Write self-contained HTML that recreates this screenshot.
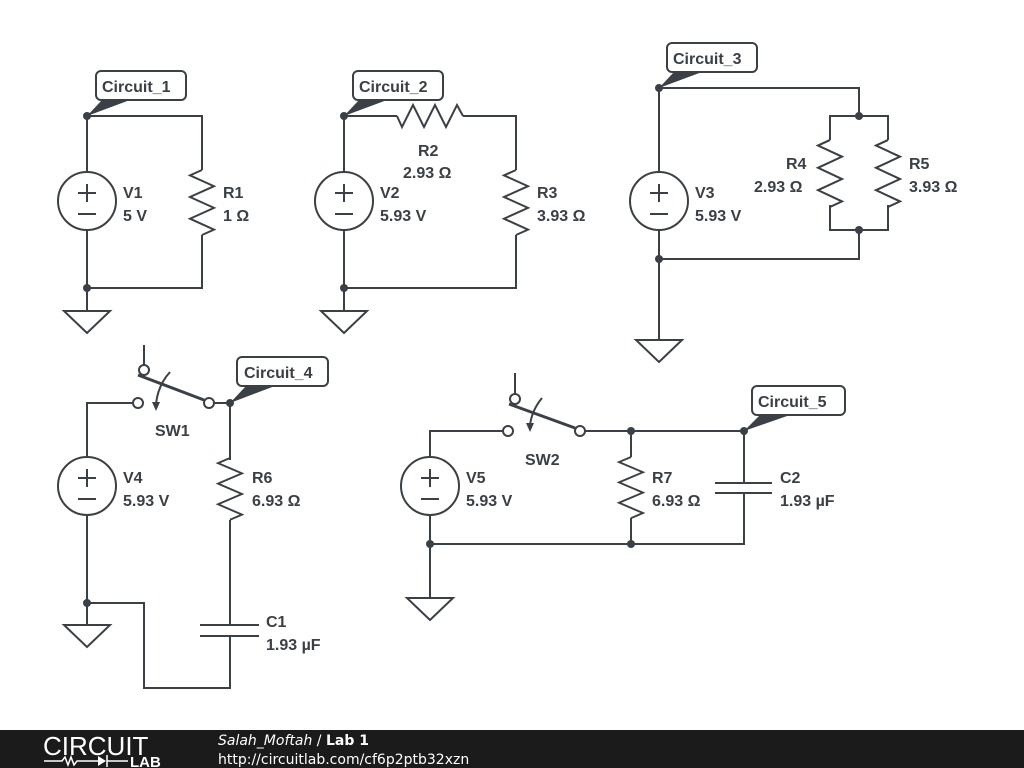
<!DOCTYPE html>
<html><head><meta charset="utf-8"><style>
html,body{margin:0;padding:0;background:#fff;width:1024px;height:768px;overflow:hidden}
svg{display:block;font-family:"Liberation Sans",Arial,sans-serif}
svg text{font-family:"Liberation Sans",Arial,sans-serif;font-weight:700;font-size:16px;fill:#3a4046}
</style></head><body>
<svg width="1024" height="768" viewBox="0 0 1024 768" font-family="Liberation Sans, Arial, sans-serif">
<defs>
<g id="vs"><circle cx="0" cy="0" r="29" fill="#fff" stroke="#3a4046" stroke-width="2"/>
<line x1="-9" y1="-8" x2="9" y2="-8" stroke="#3a4046" stroke-width="2"/><line x1="0" y1="-17" x2="0" y2="1" stroke="#3a4046" stroke-width="2"/>
<line x1="-9" y1="13" x2="9" y2="13" stroke="#3a4046" stroke-width="2"/></g>
<g id="gnd"><polygon points="-23,0 23,0 0,22" fill="#fff" stroke="#3a4046" stroke-width="2"/></g>
<polyline id="rz" points="0,0 -12,5.4 12,16.2 -12,27 12,37.9 -12,48.7 12,59.6 0,65" fill="none" stroke="#3a4046" stroke-width="2"/>
</defs>
<g fill="none" stroke="#3a4046" stroke-width="2">
<polyline points="87,288 87,116 202,116 202,170"/><polyline points="202,235 202,288 87,288 87,311"/>
<polyline points="344,311 344,116 397,116"/><polyline points="463,116 516,116 516,170"/><polyline points="516,235 516,288 344,288"/>
<polyline points="659,340 659,88 859,88 859,116"/><polyline points="830,140 830,116 888,116 888,140"/><polyline points="830,205 830,230 888,230 888,205"/><polyline points="859,230 859,259 659,259"/>
<polyline points="87,625 87,403 133,403"/><polyline points="144,365 144,345"/><polyline points="214,403 230,403 230,460"/><polyline points="230,520 230,625"/><polyline points="230,636 230,688 144,688 144,603 87,603"/>
<line x1="200" y1="625" x2="259" y2="625"/><line x1="200" y1="636" x2="259" y2="636"/>
<line x1="138" y1="375" x2="204" y2="400" stroke-width="3"/>
<path d="M170,372 Q158,385 156,404"/>
<polyline points="430,598 430,431 503,431"/><polyline points="515,394 515,373"/><polyline points="585,431 744,431 744,483"/><polyline points="631,431 631,457"/><polyline points="631,518 631,544"/><polyline points="744,493 744,544 430,544"/>
<line x1="715" y1="483" x2="772" y2="483"/><line x1="715" y1="493" x2="772" y2="493"/>
<line x1="509" y1="404" x2="575" y2="428" stroke-width="3"/>
<path d="M542,398 Q532,410 530,425"/>
<polyline points="397,116 402,127 413,105 424,127 435,105 446,127 457,105 463,116"/>
</g>
<polygon points="152,402 160,402 156,411" fill="#3a4046"/>
<polygon points="526,423 534,423 530,432" fill="#3a4046"/>
<g fill="#fff" stroke="#3a4046" stroke-width="2">
<circle cx="138" cy="403" r="5"/><circle cx="144" cy="370" r="5"/><circle cx="209" cy="403" r="5"/>
<circle cx="508" cy="431" r="5"/><circle cx="515" cy="399" r="5"/><circle cx="580" cy="431" r="5"/>
</g>
<use href="#rz" transform="translate(202,170)"/>
<use href="#rz" transform="translate(516,170)"/>
<use href="#rz" transform="translate(830,140) scale(1,1.03)"/>
<use href="#rz" transform="translate(888,140) scale(1,1.03)"/>
<use href="#rz" transform="translate(230,458) scale(1,0.95)"/>
<use href="#rz" transform="translate(631,457) scale(1,0.94)"/>
<use href="#vs" transform="translate(87,201)"/><use href="#vs" transform="translate(344,201)"/><use href="#vs" transform="translate(659,201)"/><use href="#vs" transform="translate(87,486)"/><use href="#vs" transform="translate(430,486)"/>
<use href="#gnd" transform="translate(87,311)"/><use href="#gnd" transform="translate(344,311)"/><use href="#gnd" transform="translate(659,340)"/><use href="#gnd" transform="translate(87,625)"/><use href="#gnd" transform="translate(430,598)"/>
<g fill="#3a4046">
<circle cx="87" cy="116" r="4"/><circle cx="87" cy="288" r="4"/><circle cx="344" cy="116" r="4"/><circle cx="344" cy="288" r="4"/>
<circle cx="659" cy="88" r="4"/><circle cx="659" cy="259" r="4"/><circle cx="859" cy="116" r="4"/><circle cx="859" cy="230" r="4"/>
<circle cx="230" cy="403" r="4"/><circle cx="87" cy="603" r="4"/>
<circle cx="631" cy="431" r="4"/><circle cx="744" cy="431" r="4"/><circle cx="430" cy="544" r="4"/><circle cx="631" cy="544" r="4"/>
<polygon points="87,116 102,100 130,100"/><polygon points="344,116 359,100 387,100"/><polygon points="659,88 674,72 702,72"/><polygon points="230,403 246,386 275,386"/><polygon points="744,431 760,415 790,415"/>
</g>
<g fill="#fff" stroke="#3a4046" stroke-width="2">
<rect x="96" y="71" width="90" height="29" rx="5"/><rect x="353" y="71" width="90" height="29" rx="5"/><rect x="667" y="43" width="90" height="29" rx="5"/><rect x="237" y="357" width="91" height="29" rx="5"/><rect x="752" y="386" width="93" height="29" rx="5"/>
</g>
<g font-family="Liberation Sans, Arial, sans-serif" font-weight="700" font-size="16" fill="#3a4046">
<text x="102" y="92">Circuit_1</text><text x="359" y="92">Circuit_2</text><text x="673" y="64">Circuit_3</text><text x="244" y="378">Circuit_4</text><text x="758" y="407">Circuit_5</text>
<text x="123" y="198">V1</text><text x="123" y="221">5 V</text>
<text x="223" y="198">R1</text><text x="223" y="221">1 Ω</text>
<text x="380" y="198">V2</text><text x="380" y="221">5.93 V</text>
<text x="418" y="156">R2</text><text x="403" y="178">2.93 Ω</text>
<text x="537" y="198">R3</text><text x="537" y="221">3.93 Ω</text>
<text x="695" y="198">V3</text><text x="695" y="221">5.93 V</text>
<text x="786" y="169">R4</text><text x="754" y="192">2.93 Ω</text>
<text x="909" y="169">R5</text><text x="909" y="192">3.93 Ω</text>
<text x="155" y="436">SW1</text>
<text x="123" y="483">V4</text><text x="123" y="506">5.93 V</text>
<text x="252" y="483">R6</text><text x="252" y="506">6.93 Ω</text>
<text x="266" y="627">C1</text><text x="266" y="650">1.93 µF</text>
<text x="525" y="465">SW2</text>
<text x="466" y="483">V5</text><text x="466" y="506">5.93 V</text>
<text x="652" y="483">R7</text><text x="652" y="506">6.93 Ω</text>
<text x="780" y="483">C2</text><text x="780" y="506">1.93 µF</text>
</g>
<rect x="0" y="730" width="1024" height="38" fill="#1b1b1b"/>
<text x="43" y="755" style="font-weight:normal;font-size:26px;fill:#fff;letter-spacing:0px">CIRCUIT</text>
<text x="130" y="767" style="font-size:15px;fill:#fff">LAB</text>
<polyline points="44,761 62,761 65,757 68,765 71,757 74,765 77,761 98,761" fill="none" stroke="#fff" stroke-width="1.5"/>
<polygon points="98,756 106,761 98,766" fill="#fff"/><line x1="107" y1="755" x2="107" y2="767" stroke="#fff" stroke-width="1.5"/><line x1="107" y1="761" x2="128" y2="761" stroke="#fff" stroke-width="1.5"/>
<text x="218" y="745" style="font-weight:normal;font-style:italic;font-size:14px;fill:#fff;font-family:'DejaVu Sans',sans-serif">Salah_Moftah <tspan style="font-style:normal">/</tspan> <tspan style="font-style:normal;font-weight:bold">Lab 1</tspan></text>
<text x="218" y="764" style="font-weight:normal;font-size:14px;fill:#fff;font-family:'DejaVu Sans',sans-serif">http://circuitlab.com/cf6p2ptb32xzn</text>
</svg>
</body></html>
